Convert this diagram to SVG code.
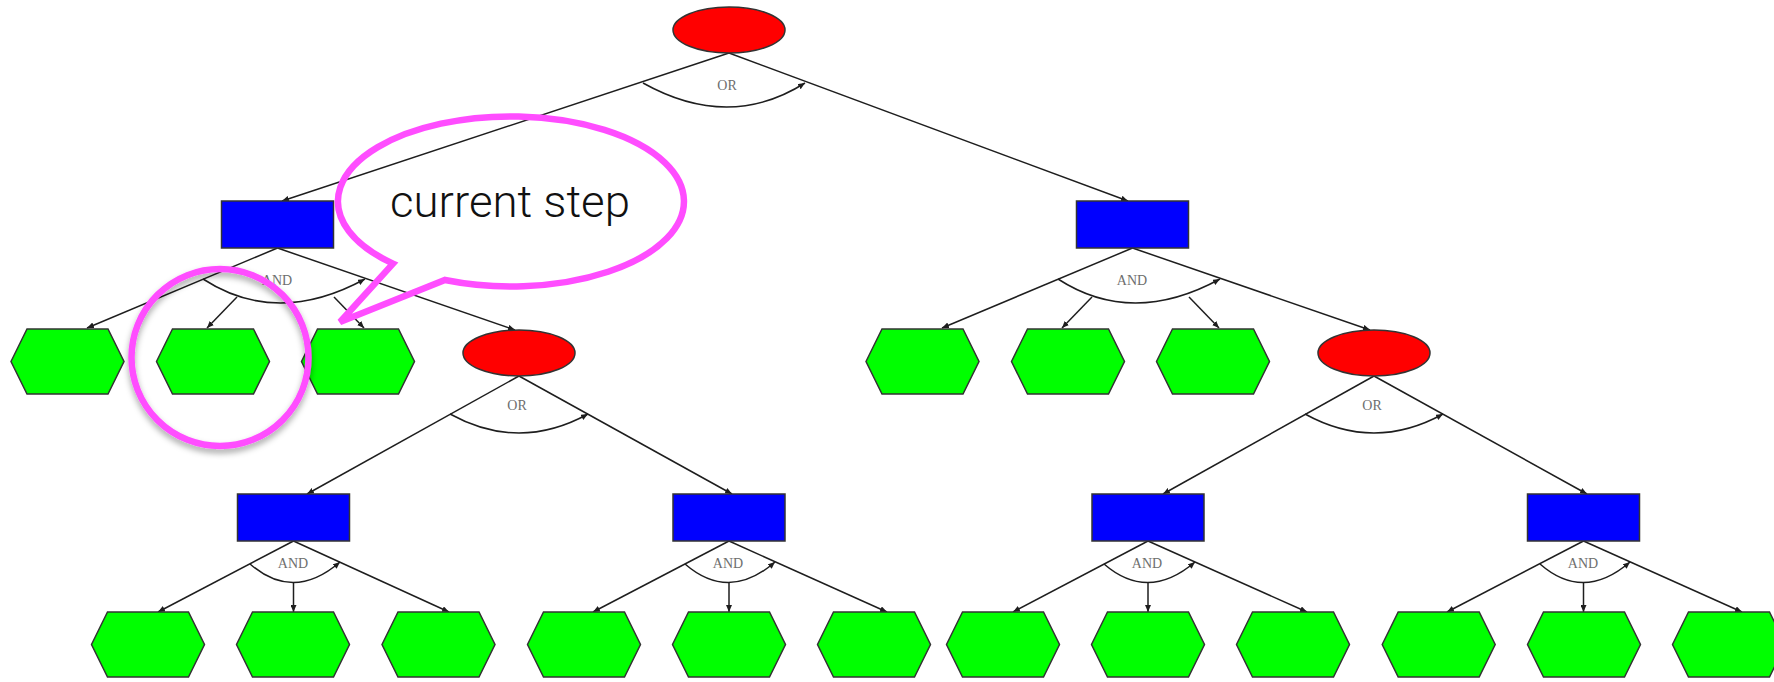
<svg xmlns="http://www.w3.org/2000/svg" xmlns:xlink="http://www.w3.org/1999/xlink" width="1774" height="682" viewBox="0 0 1774 682">
  <style>
    .edge { fill: none; stroke: #1e1e1e; stroke-width: 1.5; marker-end: url(#arrow); }
    .arc { fill: none; stroke: #1e1e1e; stroke-width: 1.5; marker-end: url(#arrow); }
    .or { fill: #ff0000; stroke: #333; stroke-width: 1.5; }
    .and { fill: #0000ff; stroke: #333; stroke-width: 1.5; }
    .leaf { fill: #00ff00; stroke: #333; stroke-width: 1.5; }
    .lbl { font-family: "Liberation Serif", "Times New Roman", serif; font-size: 14px; fill: #6e6e6e; text-anchor: middle; }
    .mark { fill: none; stroke: #ff4dff; stroke-width: 6.5; stroke-linejoin: miter; }
    .note { font-family: Roboto, "Liberation Sans", Arial, sans-serif; font-weight: 300; font-size: 44px; fill: #111; }
  </style>
  <defs>
    <marker id="arrow" markerUnits="userSpaceOnUse" markerWidth="7" markerHeight="6" refX="7" refY="3" orient="auto">
      <path d="M0,0 L7,3 L0,6 z" fill="#1e1e1e"/>
    </marker>
    <polygon id="hex" points="-56.5,0 -40.5,-32.5 40.5,-32.5 56.5,0 40.5,32.5 -40.5,32.5"/>
    <filter id="shadow" x="-30%" y="-30%" width="160%" height="160%">
      <feDropShadow dx="0" dy="4" stdDeviation="3" flood-color="#000" flood-opacity="0.35"/>
    </filter>
  </defs>

  <!-- connectors -->
  <g id="connectors">
    <!-- root OR -->
    <path class="edge" d="M729,53 L282,201"/>
    <path class="edge" d="M729,53 L1128,201"/>
    <path class="arc" d="M643,83 Q729,131 805,83"/>
    <text class="lbl" x="727" y="90">OR</text>

    <!-- left AND (level 1) -->
    <path class="edge" d="M277.5,248 L87,328"/>
    <path class="edge" d="M237,297 L207,328"/>
    <path class="edge" d="M334,297 L364,328"/>
    <path class="edge" d="M277.5,248 L515,330"/>
    <path class="arc" d="M203,279 Q277,327 365,279"/>
    <text class="lbl" x="277" y="285">AND</text>

    <!-- right AND (level 1) -->
    <path class="edge" d="M1132.5,248 L942,328"/>
    <path class="edge" d="M1092,297 L1062,328"/>
    <path class="edge" d="M1189,297 L1219,328"/>
    <path class="edge" d="M1132.5,248 L1370,330"/>
    <path class="arc" d="M1058,279 Q1132,327 1220,279"/>
    <text class="lbl" x="1132" y="285">AND</text>

    <!-- left OR (level 2) -->
    <path class="edge" d="M519,376 L307,494"/>
    <path class="edge" d="M519,376 L732,494"/>
    <path class="arc" d="M450,414 Q519,452 588,414"/>
    <text class="lbl" x="517" y="410">OR</text>

    <!-- right OR (level 2) -->
    <path class="edge" d="M1374,376 L1163,494"/>
    <path class="edge" d="M1374,376 L1587,494"/>
    <path class="arc" d="M1305,414 Q1374,452 1443,414"/>
    <text class="lbl" x="1372" y="410">OR</text>

    <!-- AND groups (level 3) -->
    <path class="edge" d="M293.5,541 L158,612"/>
    <path class="edge" d="M293.5,583 L293.5,612"/>
    <path class="edge" d="M293.5,541 L449,612"/>
    <path class="arc" d="M250,564 Q293.5,602 340,562"/>
    <text class="lbl" x="293" y="568">AND</text>

    <path class="edge" d="M729,541 L593,612"/>
    <path class="edge" d="M729,583 L729,612"/>
    <path class="edge" d="M729,541 L887,612"/>
    <path class="arc" d="M685,564 Q729,602 775,562"/>
    <text class="lbl" x="728" y="568">AND</text>

    <path class="edge" d="M1148,541 L1013,612"/>
    <path class="edge" d="M1148,583 L1148,612"/>
    <path class="edge" d="M1148,541 L1307,612"/>
    <path class="arc" d="M1104,564 Q1148,602 1195,562"/>
    <text class="lbl" x="1147" y="568">AND</text>

    <path class="edge" d="M1583.5,541 L1447,612"/>
    <path class="edge" d="M1583.5,583 L1583.5,612"/>
    <path class="edge" d="M1583.5,541 L1742,612"/>
    <path class="arc" d="M1540,564 Q1583.5,602 1630,562"/>
    <text class="lbl" x="1583" y="568">AND</text>
  </g>

  <!-- level 0 -->
  <g id="n-root"><ellipse class="or" cx="729" cy="30" rx="56" ry="23"/></g>

  <!-- level 1 -->
  <g id="n-a1"><rect class="and" x="221.5" y="201" width="112" height="47"/></g>
  <g id="n-a2"><rect class="and" x="1076.5" y="201" width="112" height="47"/></g>

  <!-- level 2 -->
  <g id="n-l1"><use class="leaf" href="#hex" x="67.5" y="361.5"/></g>
  <g id="n-l2"><use class="leaf" href="#hex" x="213" y="361.5"/></g>
  <g id="n-l3"><use class="leaf" href="#hex" x="358" y="361.5"/></g>
  <g id="n-o1"><ellipse class="or" cx="519" cy="353" rx="56" ry="23"/></g>
  <g id="n-l4"><use class="leaf" href="#hex" x="922.5" y="361.5"/></g>
  <g id="n-l5"><use class="leaf" href="#hex" x="1068" y="361.5"/></g>
  <g id="n-l6"><use class="leaf" href="#hex" x="1213" y="361.5"/></g>
  <g id="n-o2"><ellipse class="or" cx="1374" cy="353" rx="56" ry="23"/></g>

  <!-- level 3 -->
  <g id="n-a3"><rect class="and" x="237.5" y="494" width="112" height="47"/></g>
  <g id="n-a4"><rect class="and" x="673" y="494" width="112" height="47"/></g>
  <g id="n-a5"><rect class="and" x="1092" y="494" width="112" height="47"/></g>
  <g id="n-a6"><rect class="and" x="1527.5" y="494" width="112" height="47"/></g>

  <!-- level 4 -->
  <g id="n-l7"><use class="leaf" href="#hex" x="148" y="644.5"/></g>
  <g id="n-l8"><use class="leaf" href="#hex" x="293" y="644.5"/></g>
  <g id="n-l9"><use class="leaf" href="#hex" x="438.5" y="644.5"/></g>
  <g id="n-l10"><use class="leaf" href="#hex" x="584" y="644.5"/></g>
  <g id="n-l11"><use class="leaf" href="#hex" x="729" y="644.5"/></g>
  <g id="n-l12"><use class="leaf" href="#hex" x="874" y="644.5"/></g>
  <g id="n-l13"><use class="leaf" href="#hex" x="1003" y="644.5"/></g>
  <g id="n-l14"><use class="leaf" href="#hex" x="1148" y="644.5"/></g>
  <g id="n-l15"><use class="leaf" href="#hex" x="1293" y="644.5"/></g>
  <g id="n-l16"><use class="leaf" href="#hex" x="1438.7" y="644.5"/></g>
  <g id="n-l17"><use class="leaf" href="#hex" x="1584" y="644.5"/></g>
  <g id="n-l18"><use class="leaf" href="#hex" x="1729" y="644.5"/></g>

  <!-- highlight ring and speech bubble -->
  <g id="callout">
    <circle class="mark" cx="220" cy="357.5" r="88.5" filter="url(#shadow)"/>
    <path class="mark" d="M445,280 A173,85 0 1 0 393,263.6 L340,322 Z"/>
    <text class="note" x="390" y="217" textLength="240" lengthAdjust="spacingAndGlyphs">current step</text>
  </g>
</svg>
